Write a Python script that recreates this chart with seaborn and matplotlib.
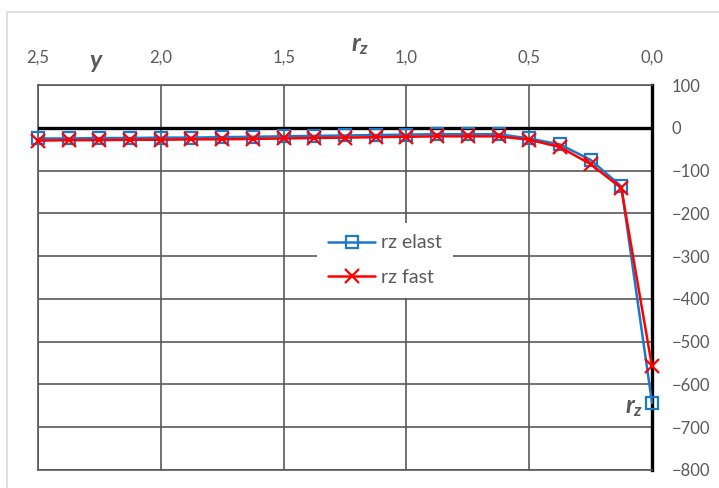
import pandas as pd
import numpy as np
import matplotlib
matplotlib.use("Agg")
import matplotlib.pyplot as plt
import seaborn as sns
from matplotlib.patches import Rectangle
from matplotlib.ticker import FuncFormatter

# ======================================
# DATA
# ======================================

y_pos = [2.5, 2.375, 2.25, 2.125, 2.0, 1.875, 1.75, 1.625, 1.5, 1.375, 1.25,
         1.125, 1.0, 0.875, 0.75, 0.625, 0.5, 0.375, 0.25, 0.125, 0.0]

rz_elast = [-25, -25, -24, -24, -23, -23, -22, -21, -20, -19, -18,
            -17, -16, -15, -15, -15, -25, -39, -75, -137, -643]

rz_fast = [-30, -29, -29, -28, -28, -27, -27, -26, -25, -24, -23,
           -22, -21, -20, -20, -20, -28, -45, -85, -141, -558]

x_ticks = [2.5, 2.0, 1.5, 1.0, 0.5, 0.0]
y_ticks = [100, 0, -100, -200, -300, -400, -500, -600, -700, -800]

df = pd.DataFrame({"y": y_pos, "rz elast": rz_elast, "rz fast": rz_fast})

# ======================================
# STYLE
# ======================================

sns.set_style("white")
plt.rcParams["font.family"] = ["Lato", "DejaVu Sans"]
plt.rcParams["mathtext.fontset"] = "custom"
plt.rcParams["mathtext.it"] = "Lato:italic:bold"
plt.rcParams["mathtext.rm"] = "Lato:bold"

grid_col = "#595959"
label_col = "#595959"
blue = "#1f77c8"
red = "#ff0000"

fig = plt.figure(figsize=(7.19, 4.88), dpi=100)
ax = fig.add_axes([38 / 719, 1 - 470 / 488, 614 / 719, 385 / 488])

# light chart-area border
fig.patches.append(Rectangle((7 / 719, -0.01), 1.0, 1 - 12 / 488 + 0.01,
                             transform=fig.transFigure, fill=False,
                             edgecolor="#d9d9d9", linewidth=1.2))

# ======================================
# PLOT
# ======================================

sns.lineplot(data=df, x="y", y="rz elast", ax=ax, color=blue,
             linewidth=1.8, marker="s", markersize=9,
             markerfacecolor="none", markeredgecolor=blue,
             markeredgewidth=1.6, label="rz elast", zorder=4, clip_on=False)
sns.lineplot(data=df, x="y", y="rz fast", ax=ax, color=red,
             linewidth=1.8, marker="x", markersize=10,
             markeredgecolor=red, markerfacecolor=red,
             markeredgewidth=1.6, label="rz fast", zorder=5, clip_on=False)

ax.set_xlim(2.5, 0.0)
ax.set_ylim(-800, 100)

ax.xaxis.tick_top()
ax.yaxis.tick_right()
ax.set_xticks(x_ticks)
ax.set_yticks(y_ticks)
ax.xaxis.set_major_formatter(FuncFormatter(lambda v, p: f"{v:.1f}".replace(".", ",")))
ax.tick_params(axis="x", length=0, pad=14, labelsize=12, colors=label_col)
ax.tick_params(axis="y", length=0, pad=14, labelsize=12, colors=label_col)
for t in ax.get_yticklabels():
    t.set_horizontalalignment("left")
ax.set_xlabel("")
ax.set_ylabel("")

ax.grid(True, color=grid_col, linewidth=1.2)
for side in ["left", "top", "bottom"]:
    ax.spines[side].set_color(grid_col)
    ax.spines[side].set_linewidth(1.2)
ax.spines["right"].set_color("black")
ax.spines["right"].set_linewidth(2.4)
ax.axhline(0, color="black", linewidth=2.4, zorder=3)

# axis titles
fig.text(95 / 719, 1 - 60 / 488, "y", fontsize=18, fontweight="bold",
         fontstyle="italic", color=label_col, ha="center", va="center")
fig.text(360 / 719, 1 - 45 / 488, r"$r_z$", fontsize=18, color=label_col,
         ha="center", va="center")
ax.text(0.035, -655, r"$r_z$", fontsize=18, color=label_col,
        ha="right", va="center")

leg = ax.legend(loc="center", bbox_to_anchor=(0.565, 0.545), frameon=True,
                fontsize=14, handlelength=2.4, handletextpad=0.3,
                labelspacing=0.9, borderpad=0.6)
leg.get_frame().set_facecolor("white")
leg.get_frame().set_edgecolor("none")
leg.get_frame().set_alpha(1)
for t in leg.get_texts():
    t.set_color(label_col)

plt.savefig("out.png", dpi=100)
